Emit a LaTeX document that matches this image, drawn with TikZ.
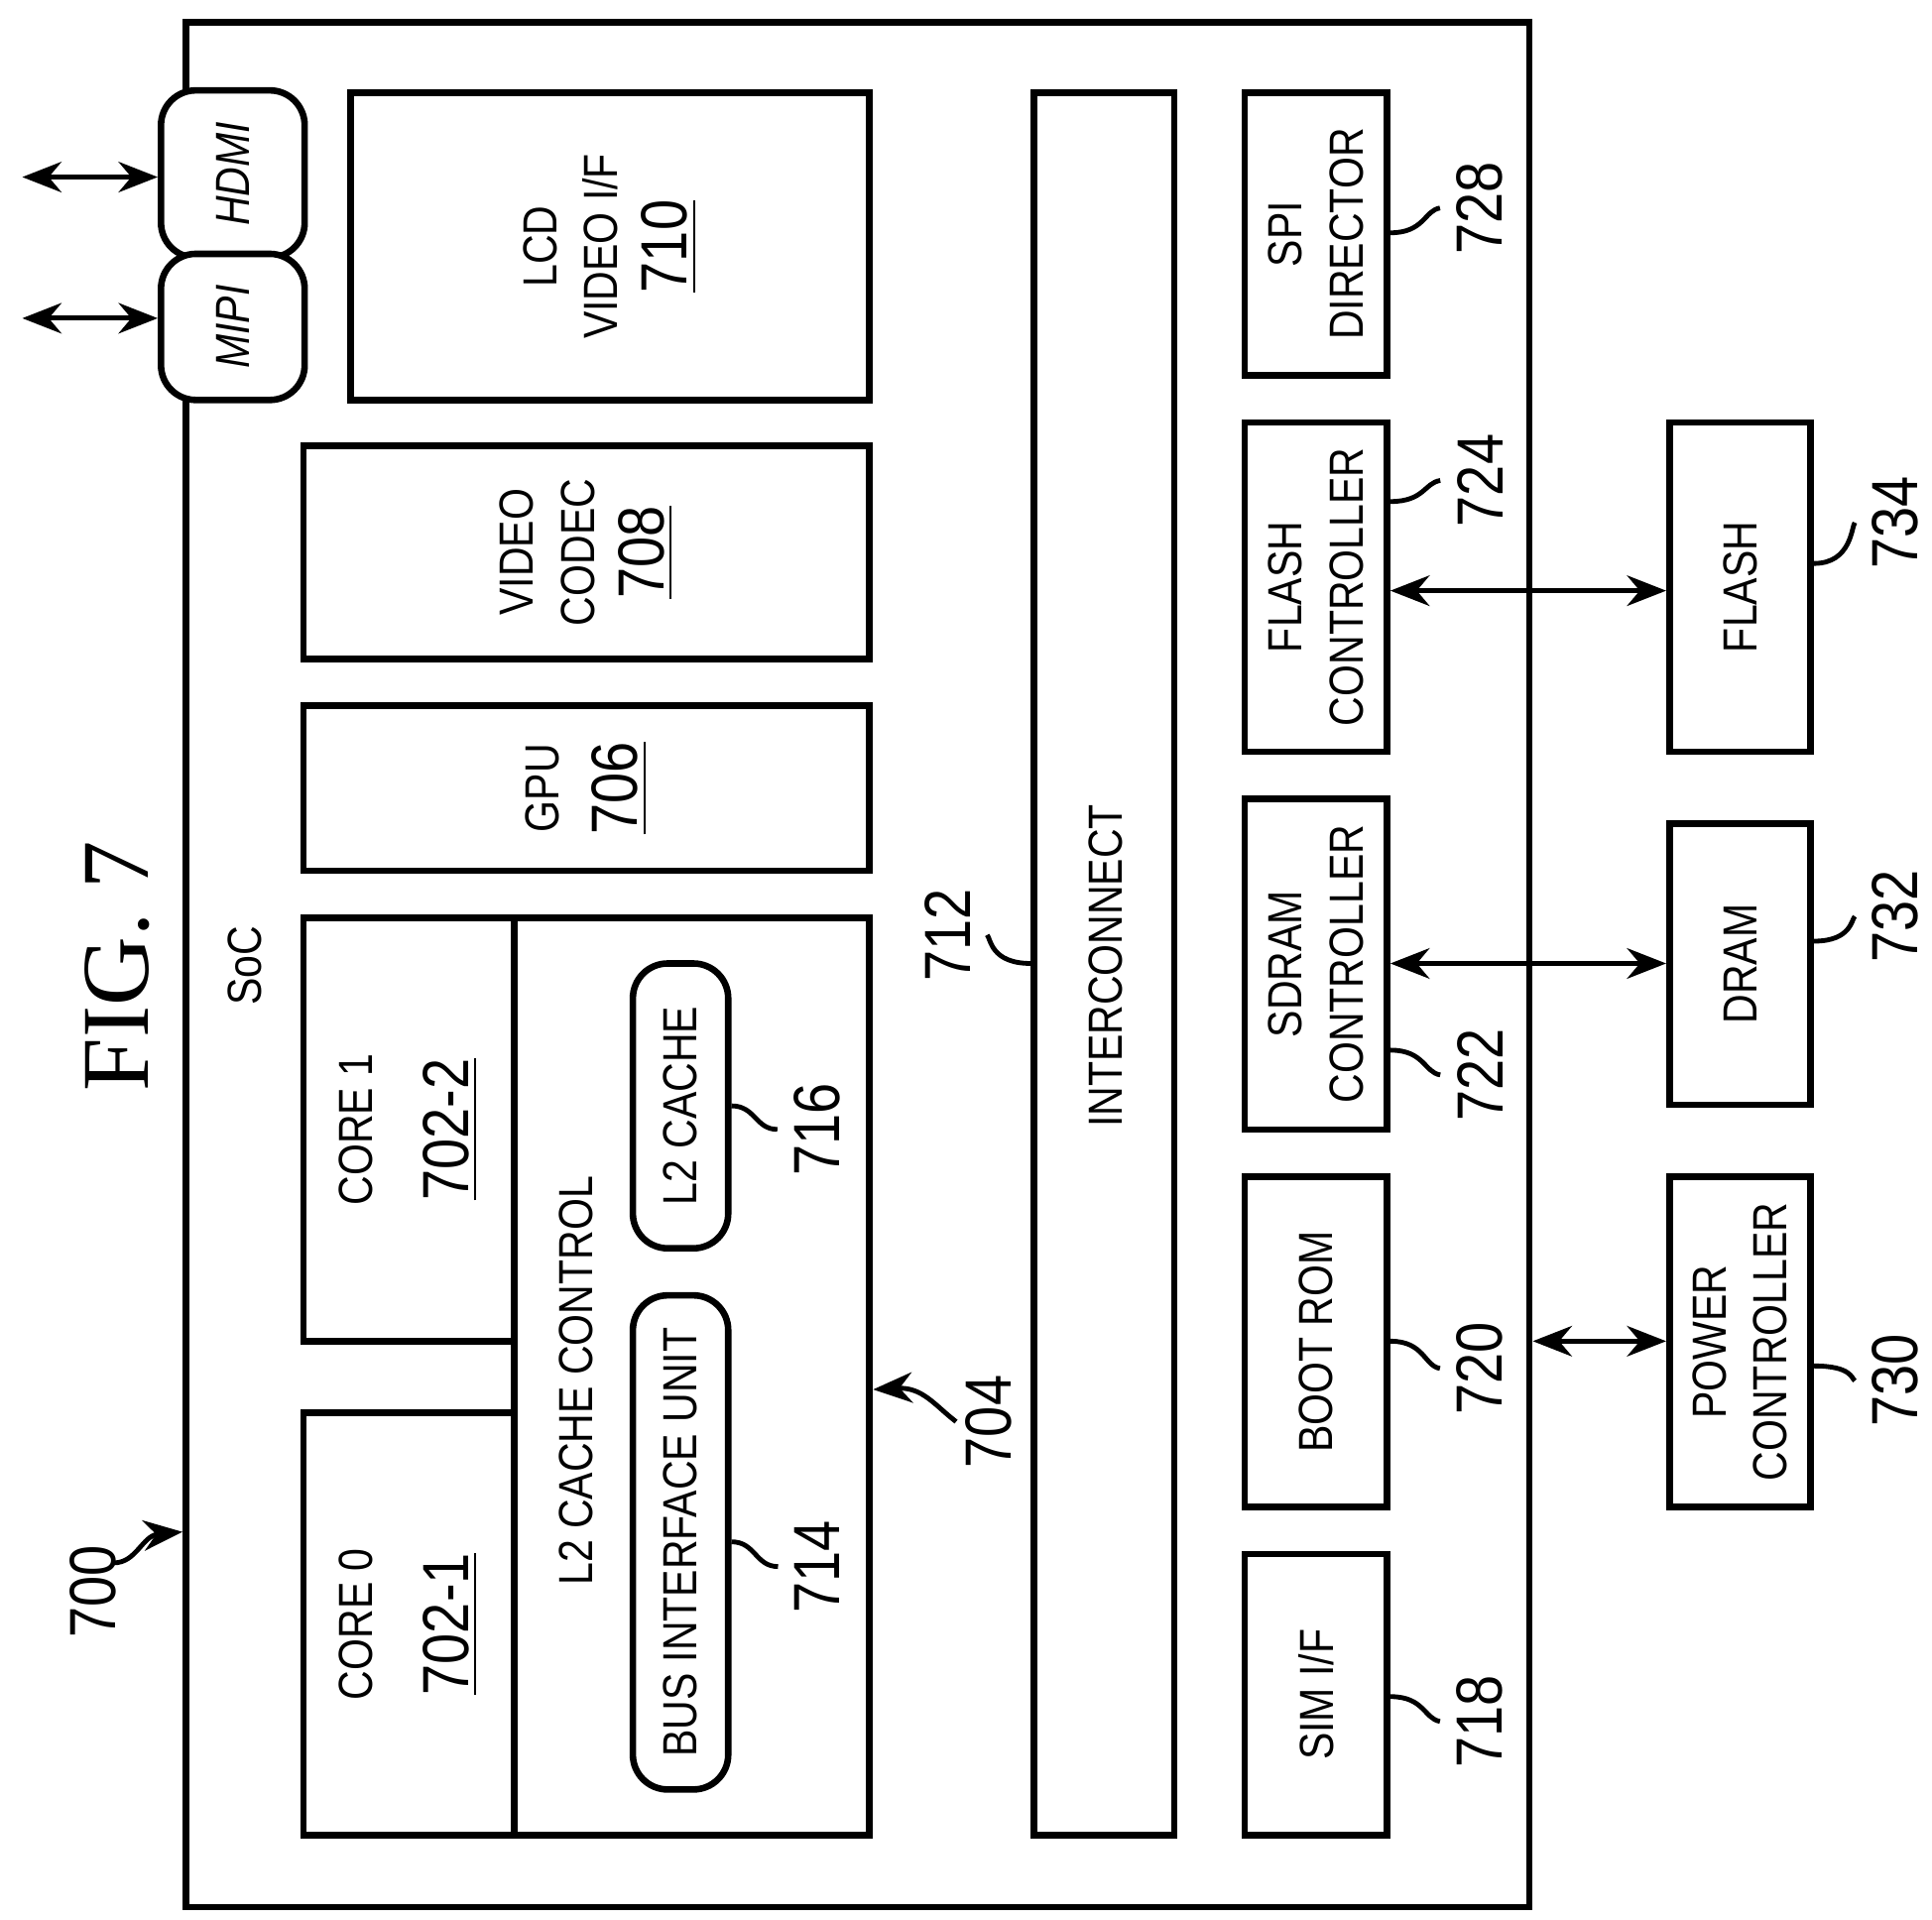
\documentclass[tikz,border=0pt]{standalone}
\usepackage{fontspec}
\setmainfont{Liberation Sans}[FakeStretch=0.85]
\newfontfamily\figfont{Liberation Serif}
\usetikzlibrary{arrows.meta}
\begin{document}
\begin{tikzpicture}[x=0.1mm,y=-0.1mm,line width=1.1pt,
  box/.style={draw,line width=1.5pt,inner sep=0},
  rbox/.style={draw,line width=1.5pt,rounded corners=8pt,fill=white,inner sep=0},
  txt/.style={rotate=90,align=center,font=\fontsize{11}{14}\selectfont},
  num/.style={rotate=90,font=\fontsize{15}{17}\selectfont},
  dbl/.style={{Stealth[length=9pt,width=7pt]}-{Stealth[length=9pt,width=7pt]},line width=1.1pt},
  sarr/.style={-{Stealth[length=9pt,width=7pt]},line width=1.1pt}]
\useasboundingbox (0,0) rectangle (1560,1550);
\newcommand\bx[6]{\node[#6,minimum width={(#4-#2)*0.1mm},minimum height={(#5-#3)*0.1mm}] (#1) at ({(#2+#4)/2},{(#3+#5)/2}) {};}
% SoC
\bx{soc}{150}{18}{1235}{1540}{box}
\bx{hdmi}{130}{73}{246}{208}{rbox}
\bx{mipi}{130}{205}{246}{323}{rbox}
\node[txt,font=\fontsize{11}{14}\selectfont\itshape] at (hdmi.center) {HDMI};
\node[txt,font=\fontsize{11}{14}\selectfont\itshape] at (mipi.center) {MIPI};
\coordinate (e1) at (18,143); \coordinate (e2) at (18,257);
\draw[dbl] (e1) -- (hdmi.west|-e1);
\draw[dbl] (e2) -- (mipi.west|-e2);
\node[rotate=90,font=\fontsize{22}{26}\figfont] (fig) at (95,780) {FIG. 7};
\node[txt] (soclbl) at (198,780) {SoC};
% left column
\bx{lcd}{283}{75}{702}{323}{box}
\node[txt] at (lcd.center) {LCD\\VIDEO I/F\\[2pt]{\fontsize{15}{17}\selectfont\underline{710}}};
\bx{vc}{245}{360}{702}{532}{box}
\node[txt] at (vc.center) {VIDEO\\CODEC\\[2pt]{\fontsize{15}{17}\selectfont\underline{708}}};
\bx{gpu}{245}{570}{702}{703}{box}
\node[txt] at (gpu.center) {GPU\\[4pt]{\fontsize{15}{17}\selectfont\underline{706}}};
\bx{l2c}{415}{741}{702}{1482}{box}
\bx{c1}{245}{741}{415}{1083}{box}
\bx{c0}{245}{1141}{415}{1482}{box}
\node[txt] at (c1.center) {CORE 1\\[8pt]{\fontsize{15}{17}\selectfont\underline{702-2}}};
\node[txt] at (c0.center) {CORE 0\\[8pt]{\fontsize{15}{17}\selectfont\underline{702-1}}};
\node[txt] at (465,1115) {L2 CACHE CONTROL};
\bx{l2}{511}{778}{588}{1008}{rbox}
\node[txt] at (l2.center) {L2 CACHE};
\bx{biu}{511}{1046}{588}{1445}{rbox}
\node[txt] at (biu.center) {BUS INTERFACE UNIT};
\node[num] (n716) at (660,912) {716};
\draw (l2.east|-0,893) .. controls (610,893) and (610,912) .. (n716.north);
\node[num] (n714) at (660,1265) {714};
\draw (biu.east|-0,1245) .. controls (610,1245) and (610,1265) .. (n714.north);
\node[num] (n704) at (798,1148) {704};
\coordinate (s704) at (772,1148);
\coordinate (a704) at (705,1122);
\draw[sarr] (s704) .. controls (755,1135) and (745,1120) .. (a704);
% interconnect
\bx{ic}{835}{75}{948}{1482}{box}
\node[txt] at (893,780) {INTERCONNECT};
\node[num] (n712) at (765,755) {712};
\draw (ic.west|-0,778) .. controls (800,778) and (800,758) .. (n712.south);
% right column
\bx{spi}{1005}{75}{1120}{303}{box}
\node[txt] at (spi.center) {SPI\\DIRECTOR};
\bx{fc}{1005}{341}{1120}{607}{box}
\node[txt] at (fc.center) {FLASH\\CONTROLLER};
\bx{sd}{1005}{645}{1120}{912}{box}
\node[txt] at (sd.center) {SDRAM\\CONTROLLER};
\bx{br}{1005}{950}{1120}{1217}{box}
\node[txt] at (br.center) {BOOT ROM};
\bx{sim}{1005}{1255}{1120}{1482}{box}
\node[txt] at (sim.center) {SIM I/F};
\node[num] (n728) at (1195,168) {728};
\draw (spi.east|-0,188) .. controls (1150,188) and (1150,170) .. (n728.north);
\node[num] (n724) at (1195,388) {724};
\draw (fc.east|-0,405) .. controls (1150,405) and (1150,390) .. (n724.north);
\node[num] (n722) at (1195,868) {722};
\draw (sd.east|-0,848) .. controls (1150,848) and (1150,866) .. (n722.north);
\node[num] (n720) at (1195,1105) {720};
\draw (br.east|-0,1083) .. controls (1150,1083) and (1150,1103) .. (n720.north);
\node[num] (n718) at (1195,1390) {718};
\draw (sim.east|-0,1370) .. controls (1150,1370) and (1150,1388) .. (n718.north);
% external
\bx{fl}{1348}{341}{1462}{607}{box}
\node[txt] at (fl.center) {FLASH};
\bx{dr}{1348}{665}{1462}{892}{box}
\node[txt] at (dr.center) {DRAM};
\bx{pc}{1348}{950}{1462}{1217}{box}
\node[txt] at (pc.center) {POWER\\CONTROLLER};
\node[num] (n734) at (1530,422) {734};
\draw (fl.east|-0,455) .. controls (1495,455) and (1495,425) .. (n734.north);
\node[num] (n732) at (1530,740) {732};
\draw (dr.east|-0,760) .. controls (1495,760) and (1495,742) .. (n732.north);
\node[num] (n730) at (1530,1115) {730};
\draw (pc.east|-0,1103) .. controls (1495,1103) and (1495,1113) .. (n730.north);
\draw[dbl] (fc.east|-0,477) -- (fl.west|-0,477);
\draw[dbl] (sd.east|-0,778) -- (dr.west|-0,778);
\draw[dbl] (soc.east|-0,1083) -- (pc.west|-0,1083);
\node[num] (n700) at (75,1285) {700};
\coordinate (s700) at (92,1262);
\draw[sarr] (s700) .. controls (110,1262) and (115,1240) .. (soc.west|-0,1237);
\end{tikzpicture}
\end{document}
